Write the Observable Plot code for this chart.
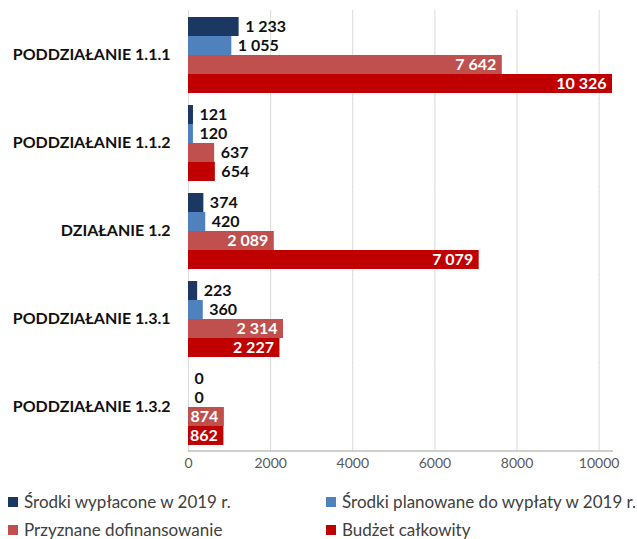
<!DOCTYPE html>
<html><head><meta charset="utf-8">
<script src="https://cdn.jsdelivr.net/npm/d3@7"></script>
<script src="https://cdn.jsdelivr.net/npm/@observablehq/plot@0.6"></script>
<style>
body{margin:0;background:#fff;font-family:Lato,sans-serif;}
#wrap{position:relative;width:637px;height:539px;}
.leg{position:absolute;font-size:17px;color:#404040;white-space:nowrap;line-height:20px;}
.leg i{display:inline-block;width:10px;height:10px;margin-right:6px;vertical-align:1px;}
</style></head>
<body><div id="wrap"><div id="chart"></div></div>
<script>
const categories = ["PODDZIAŁANIE 1.1.1","PODDZIAŁANIE 1.1.2","DZIAŁANIE 1.2","PODDZIAŁANIE 1.3.1","PODDZIAŁANIE 1.3.2"];
const series = ["Środki wypłacone w 2019 r.","Środki planowane do wypłaty w 2019 r.","Przyznane dofinansowanie","Budżet całkowity"];
const wyplacone = [1233,121,374,223,0];
const planowane = [1055,120,420,360,0];
const przyznane = [7642,637,2089,2314,874];
const budzet = [10326,654,7079,2227,862];
const xTicks = [0,2000,4000,6000,8000,10000];
const colors = ["#1b3862","#4f81bd","#c0504d","#c00000"];

const seriesValues = [wyplacone, planowane, przyznane, budzet];
const data = [];
categories.forEach((c,i)=>series.forEach((s,j)=>data.push({category:c, series:s, value:seriesValues[j][i], inside: j>=2 && seriesValues[j][i]>700})));
const fmt = d3.formatLocale({thousands:" ", grouping:[3], decimal:",", currency:["",""]}).format(",d");
const baseline = [{category:categories[categories.length-1], series:series[series.length-1]}];

const chart = Plot.plot({
  width:637, height:485, marginLeft:188, marginRight:24, marginTop:10, marginBottom:33,
  style:{fontFamily:"Lato, sans-serif", background:"#fff", fontSize:"14px", color:"#595959"},
  x:{domain:[0,10350], ticks:xTicks, tickFormat:d=>String(d), tickSize:0, tickPadding:13, label:null},
  y:{domain:series, axis:null, padding:0},
  fy:{domain:categories, paddingInner:0.12, paddingOuter:0.06, label:null, axis:null},
  color:{domain:series, range:colors},
  marks:[
    Plot.ruleX(xTicks, {stroke:"#d9d9d9", insetTop:-6, insetBottom:-6}),
    Plot.barX(data, {x:"value", y:"series", fy:"category", fill:"series"}),
    Plot.ruleY(baseline, {y:"series", fy:"category", stroke:"#bfbfbf", strokeWidth:1.3, dy:15}),
    Plot.text(data.filter(d=>!d.inside), {x:"value", y:"series", fy:"category", text:d=>fmt(d.value), textAnchor:"start", dx:6, fill:"#111", fontWeight:"bold", fontSize:16}),
    Plot.text(data.filter(d=>d.inside), {x:"value", y:"series", fy:"category", text:d=>fmt(d.value), textAnchor:"end", dx:-6, fill:"white", fontWeight:"bold", fontSize:16}),
    Plot.axisFy({anchor:"left", tickSize:0, tickPadding:18, fontWeight:"bold", fontSize:16, label:null, fill:"#111"})
  ]
});
document.getElementById("chart").appendChild(chart);

const wrap = document.getElementById("wrap");
const pos = [[8,492],[326,492],[8,520],[326,520]];
series.forEach((s,j)=>{
  const el = document.createElement("div");
  el.className="leg";
  el.style.left=pos[j][0]+"px"; el.style.top=pos[j][1]+"px";
  el.innerHTML = `<i style="background:${colors[j]}"></i>${s}`;
  wrap.appendChild(el);
});
</script></body></html>
